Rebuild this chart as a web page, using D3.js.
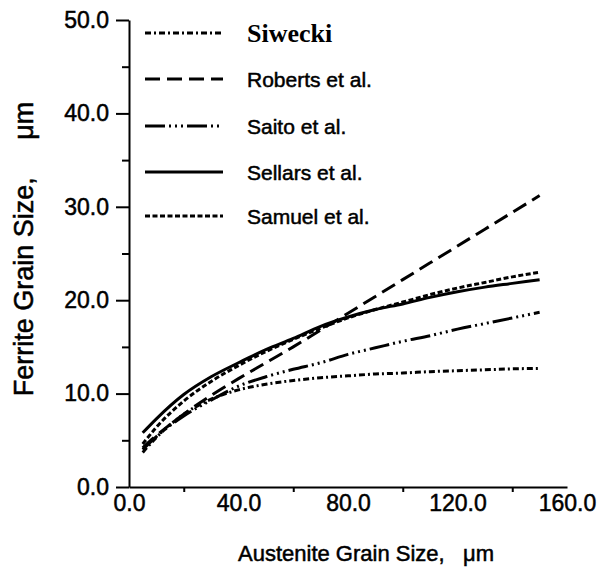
<!DOCTYPE html>
<html>
<head>
<meta charset="utf-8">
<script src="https://cdn.jsdelivr.net/npm/d3@7/dist/d3.min.js"></script>
<style>
  html, body { margin: 0; padding: 0; background: #fff; }
  svg { display: block; }
</style>
</head>
<body>
<svg id="chart" width="599" height="575"></svg>
<script>
// ---- data ----
const austenite = [5, 10, 20, 30, 40, 50, 60, 70, 80, 90, 100, 110, 120, 130, 140, 150];
const siwecki  = [3.7, 5.3, 7.8, 9.4, 10.4, 11.0, 11.4, 11.7, 11.9, 12.1, 12.2, 12.35, 12.45, 12.55, 12.65, 12.7];
const roberts  = [4.2, 5.5, 7.8, 9.8, 11.6, 13.3, 15.0, 16.8, 18.6, 20.4, 22.2, 24.0, 25.8, 27.6, 29.4, 31.2];
const saito    = [4.0, 5.4, 7.6, 9.3, 10.8, 11.8, 12.6, 13.3, 14.2, 14.9, 15.6, 16.2, 16.9, 17.5, 18.1, 18.7];
const sellars  = [5.8, 7.3, 9.9, 11.8, 13.3, 14.7, 15.9, 17.2, 18.2, 19.0, 19.6, 20.3, 20.9, 21.4, 21.8, 22.2];
const samuel   = [4.6, 6.4, 9.2, 11.3, 13.0, 14.5, 15.8, 17.0, 18.1, 19.0, 19.8, 20.6, 21.3, 21.9, 22.5, 23.0];
const seriesNames = ["Siwecki", "Roberts et al.", "Saito et al.", "Sellars et al.", "Samuel et al."];
const xTickValues = [0, 40, 80, 120, 160];
const xMinorTicks = [20, 60, 100, 140];
const yTickValues = [0, 10, 20, 30, 40, 50];
const yMinorTicks = [5, 15, 25, 35, 45];
const xTitle = "Austenite Grain Size,   \u03bcm";
const yTitle = "Ferrite Grain Size,     \u03bcm";

// ---- styles ----
const seriesValues = [siwecki, roberts, saito, sellars, samuel];
const dashes = ["6,3,2,3", "15,7", "20,4,2,4,2,4,2,4", null, "5,2.5"];
const SANS = "Liberation Sans, Arial, sans-serif";
const SERIF = "Liberation Serif, Times New Roman, serif";

const svg = d3.select("#chart");
const x = d3.scaleLinear().domain([0, 160]).range([129, 567]);
const y = d3.scaleLinear().domain([0, 50]).range([487, 20]);

// axes
const yAxis = d3.axisLeft(y).tickValues(yTickValues).tickSize(13).tickSizeOuter(0)
  .tickPadding(7).tickFormat(d3.format(".1f"));
svg.append("g").attr("transform", `translate(${x(0)},0)`).call(yAxis);
const yMinor = d3.axisLeft(y).tickValues(yMinorTicks).tickSize(7).tickSizeOuter(0).tickFormat("");
svg.append("g").attr("transform", `translate(${x(0)},0)`).call(yMinor).select(".domain").remove();

const xAxis = d3.axisBottom(x).tickValues(xTickValues).tickSize(0).tickSizeOuter(0)
  .tickPadding(8).tickFormat(d3.format(".1f"));
svg.append("g").attr("transform", `translate(0,${y(0)})`).call(xAxis);
const xMinor = d3.axisBottom(x).tickValues(xMinorTicks).tickSize(5).tickSizeOuter(0).tickFormat("");
svg.append("g").attr("transform", `translate(0,${y(0)})`).call(xMinor).select(".domain").remove();

svg.selectAll(".domain, .tick line").attr("stroke", "#000").attr("stroke-width", 2);
svg.selectAll(".tick text").attr("font-size", 23).attr("fill", "#000")
  .attr("font-family", SANS).attr("stroke", "#000").attr("stroke-width", 0.5);

// curves
const line = d3.line().x((d, i) => x(austenite[i])).y(d => y(d)).curve(d3.curveMonotoneX);
seriesValues.forEach((vals, k) => {
  svg.append("path").datum(vals).attr("d", line)
    .attr("fill", "none").attr("stroke", "#000").attr("stroke-width", 3)
    .attr("stroke-dasharray", dashes[k]);
});

// legend
const legRowY = [33, 79, 126, 172, 216];
seriesNames.forEach((name, k) => {
  svg.append("line").attr("x1", 145).attr("x2", 223).attr("y1", legRowY[k]).attr("y2", legRowY[k])
    .attr("stroke", "#000").attr("stroke-width", 3).attr("stroke-dasharray", dashes[k]);
  const t = svg.append("text").attr("x", 247).attr("y", legRowY[k]).attr("dy", "0.36em")
    .attr("fill", "#000").attr("stroke", "#000").attr("stroke-width", 0.5).text(name);
  if (k === 0) {
    t.attr("font-family", SERIF).attr("font-size", 26).attr("font-weight", "bold").attr("stroke-width", 0);
  } else {
    t.attr("font-family", SANS).attr("font-size", 21);
  }
});

// axis titles
svg.append("text").attr("x", 366).attr("y", 561).attr("text-anchor", "middle")
  .attr("font-family", SANS).attr("font-size", 22).attr("fill", "#000")
  .attr("stroke", "#000").attr("stroke-width", 0.5)
  .style("white-space", "pre").text(xTitle);
svg.append("text").attr("transform", "translate(33,249) rotate(-90)").attr("text-anchor", "middle")
  .attr("font-family", SANS).attr("font-size", 27).attr("fill", "#000")
  .attr("stroke", "#000").attr("stroke-width", 0.5)
  .style("white-space", "pre").text(yTitle);
</script>
</body>
</html>
